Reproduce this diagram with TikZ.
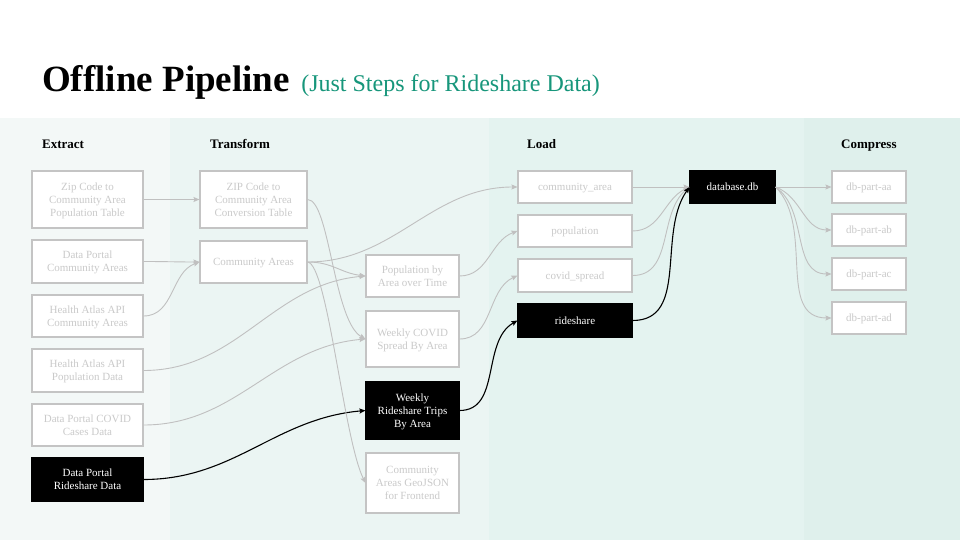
\documentclass[tikz,border=0pt]{standalone}
\usepackage{fontspec}
\setmainfont{Liberation Serif}
\usetikzlibrary{arrows.meta,calc}
\definecolor{bgA}{HTML}{F3F8F7}
\definecolor{bgB}{HTML}{EBF5F3}
\definecolor{bgC}{HTML}{E4F3F0}
\definecolor{bgD}{HTML}{DFF0EC}
\definecolor{boxline}{HTML}{C4C4C4}
\definecolor{boxtext}{HTML}{CACACA}
\definecolor{edgecol}{HTML}{C0C0C0}
\definecolor{subgreen}{HTML}{17967B}
\tikzset{
  box/.style={draw=boxline, line width=1.1pt, fill=white, text=boxtext, align=center,
    font=\fontsize{11}{13}\selectfont, inner sep=0pt, text depth=-1.5pt},
  darkbox/.style={draw=black, line width=1.1pt, fill=black, text=white, align=center,
    font=\fontsize{11}{13}\selectfont, inner sep=0pt, text depth=-1.5pt},
  heading/.style={anchor=base west, font=\fontsize{13}{15}\selectfont\bfseries, inner sep=0pt},
  edge/.style={draw=edgecol, line width=0.9pt, -{Stealth[length=6pt,width=5pt,inset=1pt]}},
  darkedge/.style={draw=black, line width=1.1pt, -{Stealth[length=6pt,width=5pt,inset=1pt]}},
}
\begin{document}
\begin{tikzpicture}[x=1pt,y=1pt]
\useasboundingbox (0,0) rectangle (960,-540);
\fill[white] (0,0) rectangle (960,-540);
% column backgrounds
\fill[bgA] (0,-118) rectangle (170,-540);
\fill[bgB] (170,-118) rectangle (489,-540);
\fill[bgC] (489,-118) rectangle (804,-540);
\fill[bgD] (804,-118) rectangle (960,-540);
% title
\node[anchor=base west, inner sep=0pt] (title) at (42,-92)
  {\fontsize{37}{40}\selectfont\bfseries Offline Pipeline};
\node[anchor=base west, inner sep=0pt, text=subgreen] (subtitle) at ($(title.base east)+(11,0)$)
  {\fontsize{24}{28}\selectfont (Just Steps for Rideshare Data)};
% headings
\node[heading] (hE) at (42,-149) {Extract};
\node[heading] (hT) at (210,-149) {Transform};
\node[heading] (hL) at (527,-149) {Load};
\node[heading] (hC) at (841,-149) {Compress};
% extract
\node[box, minimum width=111pt, minimum height=57pt] (zp) at (87.5,-199.5) {Zip Code to\\Community Area\\Population Table};
\node[box, minimum width=111pt, minimum height=43pt] (dpca) at (87.5,-261.5) {Data Portal\\Community Areas};
\node[box, minimum width=111pt, minimum height=42pt] (haca) at (87.5,-316) {Health Atlas API\\Community Areas};
\node[box, minimum width=111pt, minimum height=43pt] (hapd) at (87.5,-370.5) {Health Atlas API\\Population Data};
\node[box, minimum width=111pt, minimum height=42pt] (dpcc) at (87.5,-425) {Data Portal COVID\\Cases Data};
\node[darkbox, minimum width=111pt, minimum height=43pt] (dprs) at (87.5,-479.5) {Data Portal\\Rideshare Data};
% transform
\node[box, minimum width=107pt, minimum height=57pt] (zct) at (253.5,-199.5) {ZIP Code to\\Community Area\\Conversion Table};
\node[box, minimum width=107pt, minimum height=42pt] (ca) at (253.5,-262) {Community Areas};
\node[box, minimum width=93pt, minimum height=42pt] (pop) at (412.5,-276) {Population by\\Area over Time};
\node[box, minimum width=93pt, minimum height=56pt] (wcs) at (412.5,-339) {Weekly COVID\\Spread By Area};
\node[darkbox, minimum width=93pt, minimum height=57pt] (wrt) at (412.5,-410.5) {Weekly\\Rideshare Trips\\By Area};
\node[box, minimum width=93pt, minimum height=60pt] (geo) at (412.5,-483) {Community\\Areas GeoJSON\\for Frontend};
% load
\node[box, minimum width=114pt, minimum height=32pt] (lca) at (575,-187) {community\_area};
\node[box, minimum width=114pt, minimum height=32pt] (lpop) at (575,-231) {population};
\node[box, minimum width=114pt, minimum height=33pt] (lcov) at (575,-275.5) {covid\_spread};
\node[darkbox, minimum width=114pt, minimum height=33pt] (lrs) at (575,-320.5) {rideshare};
\node[darkbox, minimum width=85pt, minimum height=32pt] (db) at (732.5,-187) {database.db};
% compress
\node[box, minimum width=74pt, minimum height=32pt] (aa) at (869,-187) {db-part-aa};
\node[box, minimum width=74pt, minimum height=32pt] (ab) at (869,-230) {db-part-ab};
\node[box, minimum width=74pt, minimum height=32pt] (ac) at (869,-274) {db-part-ac};
\node[box, minimum width=74pt, minimum height=32pt] (ad) at (869,-318) {db-part-ad};
% edges
\draw[edge] (zp.east) -- (zct.west);
\draw[edge] (dpca.east) to[out=0,in=180] (ca.west);
\draw[edge] (haca.east) to[out=0,in=200] (ca.west);
\draw[edge] (hapd.east) to[out=0,in=185] (pop.west);
\draw[edge] (dpcc.east) to[out=0,in=185] (wcs.west);
\draw[darkedge] (dprs.east) to[out=0,in=185] (wrt.west);
\draw[edge] (zct.east) .. controls +(22,0) and +(-32,18) .. (wcs.west);
\draw[edge] (ca.east) to[out=0,in=180] (lca.west);
\draw[edge] (ca.east) .. controls +(25,0) and +(-25,3) .. (pop.west);
\draw[edge] (ca.east) .. controls +(20,-2) and +(-22,45) .. (geo.west);
\draw[edge] (pop.east) to[out=0,in=200] (lpop.west);
\draw[edge] (wcs.east) to[out=0,in=205] (lcov.west);
\draw[darkedge] (wrt.east) to[out=0,in=210] (lrs.west);
\draw[edge] (lca.east) -- (db.west);
\draw[edge] (lpop.east) to[out=0,in=205] (db.west);
\draw[edge] (lcov.east) to[out=0,in=220] (db.west);
\draw[darkedge] (lrs.east) to[out=0,in=235] (db.west);
\draw[edge] (db.east) -- (aa.west);
\draw[edge] (db.east) to[out=-20,in=180] (ab.west);
\draw[edge] (db.east) to[out=-35,in=180] (ac.west);
\draw[edge] (db.east) to[out=-45,in=180] (ad.west);
\end{tikzpicture}
\end{document}
